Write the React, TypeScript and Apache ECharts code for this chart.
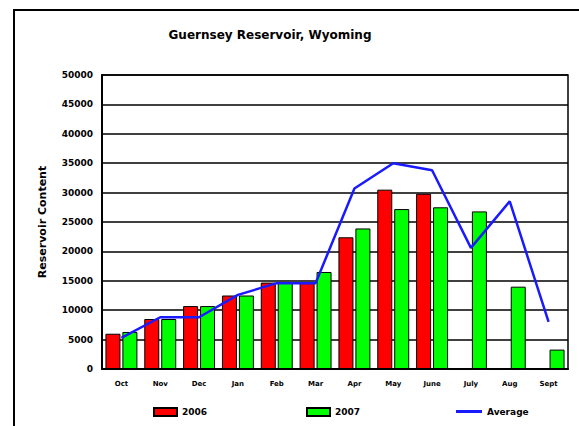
import React, { useEffect, useRef } from "react";
import * as echarts from "echarts";

const categories = ["Oct", "Nov", "Dec", "Jan", "Feb", "Mar", "Apr", "May", "June", "July", "Aug", "Sept"];
const values2006: (number | null)[] = [6000, 8500, 10700, 12500, 14700, 14600, 22400, 30500, 29800, null, null, null];
const values2007: number[] = [6300, 8500, 10700, 12500, 14700, 16500, 23900, 27200, 27500, 26800, 14000, 3300];
const average: number[] = [5300, 8800, 8800, 12600, 14600, 14600, 30700, 35000, 33800, 20600, 28500, 8000];
const yTicks = { min: 0, max: 50000, interval: 5000 };

export default function App() {
  const ref = useRef<HTMLDivElement>(null);
  useEffect(() => {
    if (!ref.current) return;
    const chart = echarts.init(ref.current, null, { renderer: "svg" });
    const font = "DejaVu Sans, Verdana, sans-serif";
    const legendText = { fontFamily: font, fontSize: 9, fontWeight: "bold", color: "#000" };
    chart.setOption({
      animation: false,
      backgroundColor: "#ffffff",
      title: {
        text: "Guernsey Reservoir, Wyoming",
        left: 270,
        top: 29,
        padding: 0,
        textAlign: "center",
        textStyle: { fontFamily: font, fontSize: 12, fontWeight: "bold", color: "#000" },
      },
      graphic: [
        {
          type: "rect",
          shape: { x: 14, y: 10, width: 620, height: 480 },
          style: { fill: "none", stroke: "#000", lineWidth: 2 },
          silent: true,
        },
      ],
      legend: [
        {
          data: [{ name: "2006", icon: "rect" }],
          left: 153,
          top: 407,
          padding: 0,
          itemWidth: 23,
          itemHeight: 8,
          textStyle: legendText,
        },
        {
          data: [{ name: "2007", icon: "rect" }],
          left: 306,
          top: 407,
          padding: 0,
          itemWidth: 23,
          itemHeight: 8,
          textStyle: legendText,
        },
        {
          data: [{ name: "Average", icon: "rect", itemStyle: { color: "#1a1aff", borderWidth: 0 } }],
          left: 456,
          top: 407,
          padding: 0,
          itemWidth: 26,
          itemHeight: 3,
          textStyle: legendText,
        },
      ],
      grid: { left: 102, top: 75, width: 466, height: 294, show: true, borderColor: "#000", borderWidth: 1.5, containLabel: false },
      xAxis: {
        type: "category",
        data: categories,
        axisTick: { show: false },
        axisLine: { lineStyle: { color: "#000", width: 2 } },
        axisLabel: { fontFamily: font, fontSize: 7, fontWeight: "bold", color: "#000", margin: 11 },
      },
      yAxis: {
        type: "value",
        min: yTicks.min,
        max: yTicks.max,
        interval: yTicks.interval,
        name: "Reservoir Content",
        nameLocation: "middle",
        nameGap: 54,
        nameTextStyle: { fontFamily: font, fontSize: 11, fontWeight: "bold", color: "#000" },
        axisLine: { show: true, lineStyle: { color: "#000", width: 2 } },
        axisTick: { show: false },
        splitLine: { lineStyle: { color: "#000", width: 1.5 } },
        axisLabel: {
          fontFamily: font,
          fontSize: 9,
          fontWeight: "bold",
          color: "#000",
          margin: 9,
          formatter: (v: number) => String(v),
        },
      },
      series: [
        {
          name: "2006",
          type: "bar",
          data: values2006,
          barWidth: 15,
          barGap: "13%",
          itemStyle: { color: "#ff0000", borderColor: "#000", borderWidth: 1 },
        },
        {
          name: "2007",
          type: "bar",
          data: values2007,
          barWidth: 15,
          barGap: "13%",
          itemStyle: { color: "#00ff00", borderColor: "#000", borderWidth: 1 },
        },
        {
          name: "Average",
          type: "line",
          data: average,
          symbol: "none",
          lineStyle: { color: "#1a1aff", width: 2.5 },
          itemStyle: { color: "#1a1aff" },
          z: 5,
        },
      ],
    });
    return () => chart.dispose();
  }, []);
  return <div ref={ref} style={{ position: "absolute", left: 0, top: 0, width: 579, height: 426 }} />;
}
